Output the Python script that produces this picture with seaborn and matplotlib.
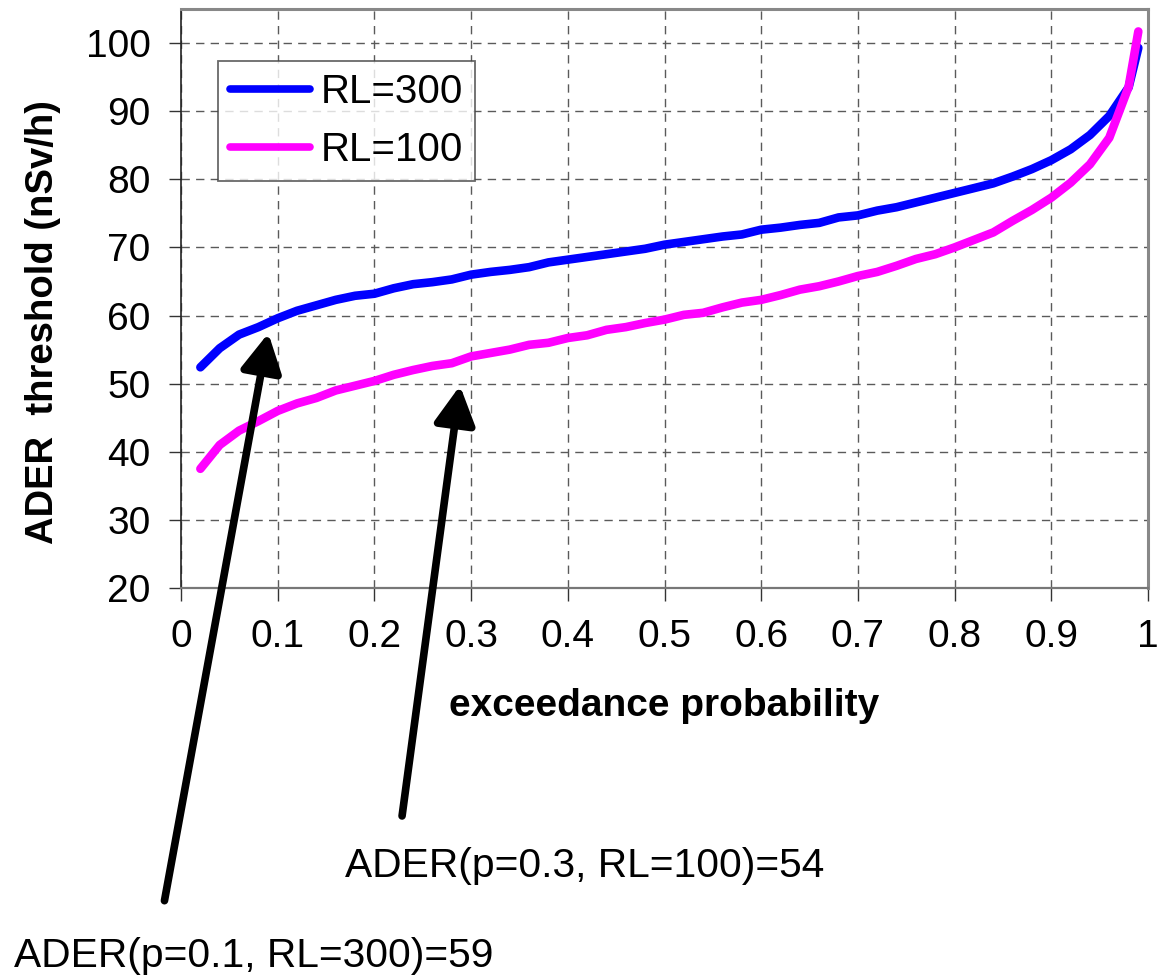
import matplotlib
matplotlib.use("Agg")
import matplotlib.pyplot as plt
import numpy as np
import pandas as pd
import seaborn as sns

# ---------------- data ----------------
prob = [0.02, 0.04, 0.06, 0.08, 0.10, 0.12, 0.14, 0.16, 0.18, 0.20,
        0.22, 0.24, 0.26, 0.28, 0.30, 0.32, 0.34, 0.36, 0.38, 0.40,
        0.42, 0.44, 0.46, 0.48, 0.50, 0.52, 0.54, 0.56, 0.58, 0.60,
        0.62, 0.64, 0.66, 0.68, 0.70, 0.72, 0.74, 0.76, 0.78, 0.80,
        0.82, 0.84, 0.86, 0.88, 0.90, 0.92, 0.94, 0.96, 0.98, 0.99]

ader_rl300 = [52.4, 55.2, 57.2, 58.3, 59.6, 60.7, 61.5, 62.3, 62.9, 63.2,
              64.0, 64.6, 64.9, 65.3, 66.0, 66.4, 66.7, 67.1, 67.8, 68.2,
              68.6, 69.0, 69.4, 69.8, 70.4, 70.8, 71.2, 71.6, 71.9, 72.6,
              72.9, 73.3, 73.6, 74.4, 74.7, 75.4, 75.9, 76.6, 77.3, 78.0,
              78.7, 79.4, 80.4, 81.5, 82.8, 84.4, 86.5, 89.3, 93.5, 99.3]

ader_rl100 = [37.5, 41.0, 43.1, 44.5, 46.0, 47.1, 47.9, 49.0, 49.7, 50.4,
              51.3, 52.0, 52.6, 53.0, 54.0, 54.5, 55.0, 55.7, 56.0, 56.7,
              57.1, 57.9, 58.3, 58.9, 59.4, 60.1, 60.4, 61.2, 61.9, 62.3,
              63.0, 63.8, 64.3, 65.0, 65.8, 66.4, 67.3, 68.3, 69.0, 70.0,
              71.1, 72.2, 73.9, 75.5, 77.3, 79.5, 82.2, 86.1, 93.6, 101.7]

series_labels = ["RL=300", "RL=100"]
series_colors = ["#0000FF", "#FF00FF"]

x_ticks = [0, 0.1, 0.2, 0.3, 0.4, 0.5, 0.6, 0.7, 0.8, 0.9, 1.0]
x_tick_labels = ["0", "0.1", "0.2", "0.3", "0.4", "0.5", "0.6", "0.7", "0.8", "0.9", "1"]
y_ticks = [20, 30, 40, 50, 60, 70, 80, 90, 100]

x_label = "exceedance probability"
y_label = "ADER  threshold (nSv/h)"

annot_texts = ["ADER(p=0.1, RL=300)=59", "ADER(p=0.3, RL=100)=54"]

# ---------------- style ----------------
sns.set_theme(style="white")
plt.rcParams["font.family"] = ["Liberation Sans", "DejaVu Sans"]
plt.rcParams["text.color"] = "black"
plt.rcParams["axes.labelcolor"] = "black"
plt.rcParams["xtick.color"] = "black"
plt.rcParams["ytick.color"] = "black"

fig = plt.figure(figsize=(11.59, 9.75), dpi=100)
ax = fig.add_axes([0.1562, 0.3969, 0.8343, 0.5939])

df = pd.DataFrame({
    "p": prob * 2,
    "ader": ader_rl300 + ader_rl100,
    "series": [series_labels[0]] * len(prob) + [series_labels[1]] * len(prob),
})

for lab, col in zip(series_labels, series_colors):
    sub = df[df["series"] == lab]
    sns.lineplot(data=sub, x="p", y="ader", ax=ax, color=col, linewidth=6.2,
                 label=lab, solid_capstyle="round", solid_joinstyle="round",
                 zorder=3)

ax.set_xlim(0, 1)
ax.set_ylim(20, 105)
ax.set_xticks(x_ticks)
ax.set_xticklabels(x_tick_labels)
ax.set_yticks(y_ticks)

ax.grid(True, color="#5a5a5a", linestyle=(0, (6, 4.5)), linewidth=1.0)
ax.set_axisbelow(True)

ax.tick_params(axis="both", direction="out", length=9, width=1.0,
               color="#333333", labelsize=28, pad=13, labelcolor="black")
ax.tick_params(axis="x", bottom=True)
ax.tick_params(axis="y", left=True)

for side in ["top", "right"]:
    ax.spines[side].set_color("#888888")
    ax.spines[side].set_linewidth(2.2)
ax.spines["left"].set_color("#222222")
ax.spines["left"].set_linewidth(1.2)
ax.spines["bottom"].set_color("#777777")
ax.spines["bottom"].set_linewidth(1.6)

ax.set_xlabel(x_label, fontsize=28, fontweight="bold", color="black")
ax.set_ylabel(y_label, fontsize=27.5, fontweight="bold", color="black")
ax.xaxis.set_label_coords(0.5, -0.172)
ax.yaxis.set_label_coords(-0.124, 0.459)

leg = ax.legend(loc="upper left", bbox_to_anchor=(0.038, 0.910),
                borderaxespad=0, fontsize=29, frameon=True, fancybox=False,
                handlelength=2.0, handletextpad=0.25, borderpad=0.3,
                labelspacing=0.5)
leg.get_frame().set_edgecolor("#444444")
leg.get_frame().set_linewidth(1.3)
for h in leg.get_lines():
    h.set_linewidth(5.5)
for t in leg.get_texts():
    t.set_color("black")

# ---------------- annotations ----------------
arrow_kw = dict(arrowstyle="-|>,head_length=1.15,head_width=0.62",
                lw=5.5, color="black", mutation_scale=20,
                shrinkA=0, shrinkB=0)
ax.annotate("", xy=(0.0903, 57.4), xycoords="data",
            xytext=(0.1419, 0.0762), textcoords="figure fraction",
            arrowprops=arrow_kw, annotation_clip=False)
ax.annotate("", xy=(0.2885, 49.7), xycoords="data",
            xytext=(0.3469, 0.1631), textcoords="figure fraction",
            arrowprops=arrow_kw, annotation_clip=False)

ann_font = ["Liberation Sans", "DejaVu Sans"]
fig.text(0.0117, 1 - 966.7 / 975, annot_texts[0], fontsize=29.3,
         family=ann_font, ha="left", va="baseline", color="black")
fig.text(0.298, 1 - 876.7 / 975, annot_texts[1], fontsize=29.3,
         family=ann_font, ha="left", va="baseline", color="black")

fig.savefig("out.png", dpi=100)
